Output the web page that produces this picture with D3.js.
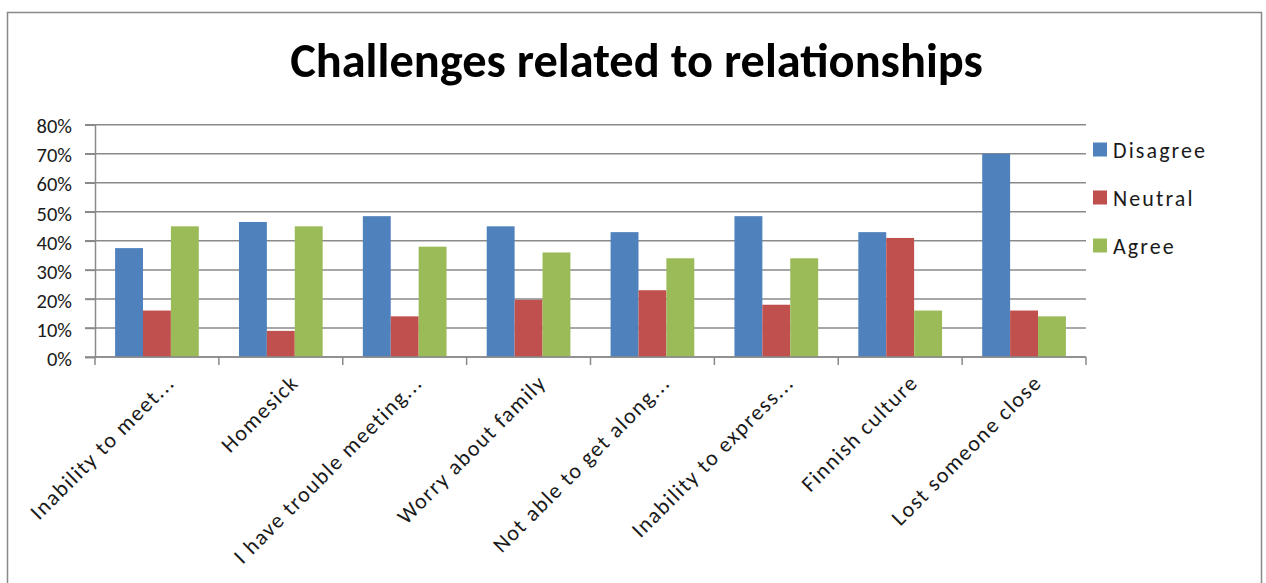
<!DOCTYPE html>
<html>
<head>
<meta charset="utf-8">
<script src="https://cdn.jsdelivr.net/npm/d3@7"></script>
<style>
  html, body { margin: 0; padding: 0; background: #fff; }
  svg { display: block; font-family: Carlito, Calibri, Lato, "Open Sans", sans-serif; }
</style>
</head>
<body>
<svg id="chart" width="1266" height="583"></svg>
<script>
const title = "Challenges related to relationships";
const categories = [
  "Inability to meet...",
  "Homesick",
  "I have trouble meeting...",
  "Worry about family",
  "Not able to get along...",
  "Inability to express...",
  "Finnish culture",
  "Lost someone close"
];
const seriesNames = ["Disagree", "Neutral", "Agree"];
const disagree = [0.375, 0.465, 0.485, 0.45, 0.43, 0.485, 0.43, 0.70];
const neutral  = [0.16, 0.09, 0.14, 0.197, 0.23, 0.18, 0.41, 0.16];
const agree    = [0.45, 0.45, 0.38, 0.36, 0.34, 0.34, 0.16, 0.14];
const yTicks = [0, 0.1, 0.2, 0.3, 0.4, 0.5, 0.6, 0.7, 0.8];
const colors = ["#4F81BD", "#C0504D", "#9BBB59"];

const series = [disagree, neutral, agree];
const svg = d3.select("#chart");

// outer chart border
svg.append("rect")
  .attr("x", 7.5).attr("y", 12.5).attr("width", 1254).attr("height", 600)
  .attr("fill", "#fff").attr("stroke", "#888").attr("stroke-width", 1.5);

const plotL = 95, plotR = 1086, plotT = 124.7, plotB = 357;
const x = d3.scaleBand().domain(categories).range([plotL, plotR]).padding(0);
const xs = d3.scaleBand().domain(seriesNames).range([0, x.bandwidth()])
  .paddingInner(0).paddingOuter(0.72);
const y = d3.scaleLinear().domain([0, 0.8]).range([plotB, plotT]);

// gridlines
svg.append("g")
  .selectAll("line").data(yTicks).join("line")
  .attr("x1", plotL - 10).attr("x2", plotR)
  .attr("y1", d => y(d)).attr("y2", d => y(d))
  .attr("stroke", "#8a8a8a").attr("stroke-width", 1.5);

// bars
const groups = svg.append("g").selectAll("g").data(categories).join("g")
  .attr("transform", d => `translate(${x(d)},0)`);
groups.selectAll("rect")
  .data((c, i) => seriesNames.map((s, j) => ({ s, v: series[j][i], j })))
  .join("rect")
  .attr("x", d => xs(d.s))
  .attr("width", xs.bandwidth())
  .attr("y", d => y(d.v))
  .attr("height", d => y(0) - y(d.v))
  .attr("fill", d => colors[d.j]);

// y axis
const yAxis = d3.axisLeft(y).tickValues(yTicks).tickFormat(d3.format(".0%"))
  .tickSize(10).tickPadding(13);
const gy = svg.append("g").attr("transform", `translate(${plotL},0)`).call(yAxis);
gy.select(".domain").attr("stroke", "#8a8a8a").attr("stroke-width", 1.5);
gy.selectAll(".tick line").attr("stroke", "#8a8a8a").attr("stroke-width", 1.5);
gy.selectAll(".tick text").attr("font-size", 20.5).attr("fill", "#1a1a1a")
  .attr("font-family", "Carlito, Calibri, Lato, sans-serif").attr("dy", "0.4em");

// x axis line + ticks at category boundaries
const boundaries = categories.map(c => x(c)).concat([plotR]);
svg.append("line").attr("x1", plotL).attr("x2", plotR).attr("y1", plotB).attr("y2", plotB)
  .attr("stroke", "#8a8a8a").attr("stroke-width", 1.5);
svg.append("g").selectAll("line").data(boundaries).join("line")
  .attr("x1", d => d).attr("x2", d => d).attr("y1", plotB).attr("y2", plotB + 8)
  .attr("stroke", "#8a8a8a").attr("stroke-width", 1.5);

// x labels
svg.append("g").selectAll("text").data(categories).join("text")
  .attr("transform", d => `translate(${x(d) + x.bandwidth() / 2 + 19},${plotB + 27}) rotate(-45)`)
  .attr("text-anchor", "end")
  .attr("font-size", 22).attr("letter-spacing", 1.5).attr("fill", "#1a1a1a")
  .text(d => d);

// title
const t = svg.append("text").attr("x", 636.5).attr("y", 77)
  .attr("text-anchor", "middle").attr("font-weight", "bold")
  .attr("font-size", 38).attr("fill", "#000").text(title);
const tw = t.node().getComputedTextLength();
t.attr("font-size", 38 * 693 / tw);

// legend
const legend = svg.append("g").selectAll("g").data(seriesNames).join("g")
  .attr("transform", (d, i) => `translate(1093,${149.5 + i * 48})`);
legend.append("rect").attr("x", 0).attr("y", -7).attr("width", 14).attr("height", 14)
  .attr("fill", (d, i) => colors[i]);
legend.append("text").attr("x", 20).attr("y", 8).attr("font-size", 22)
  .attr("letter-spacing", 2.1)
  .attr("fill", "#1a1a1a").text(d => d);
</script>
</body>
</html>
